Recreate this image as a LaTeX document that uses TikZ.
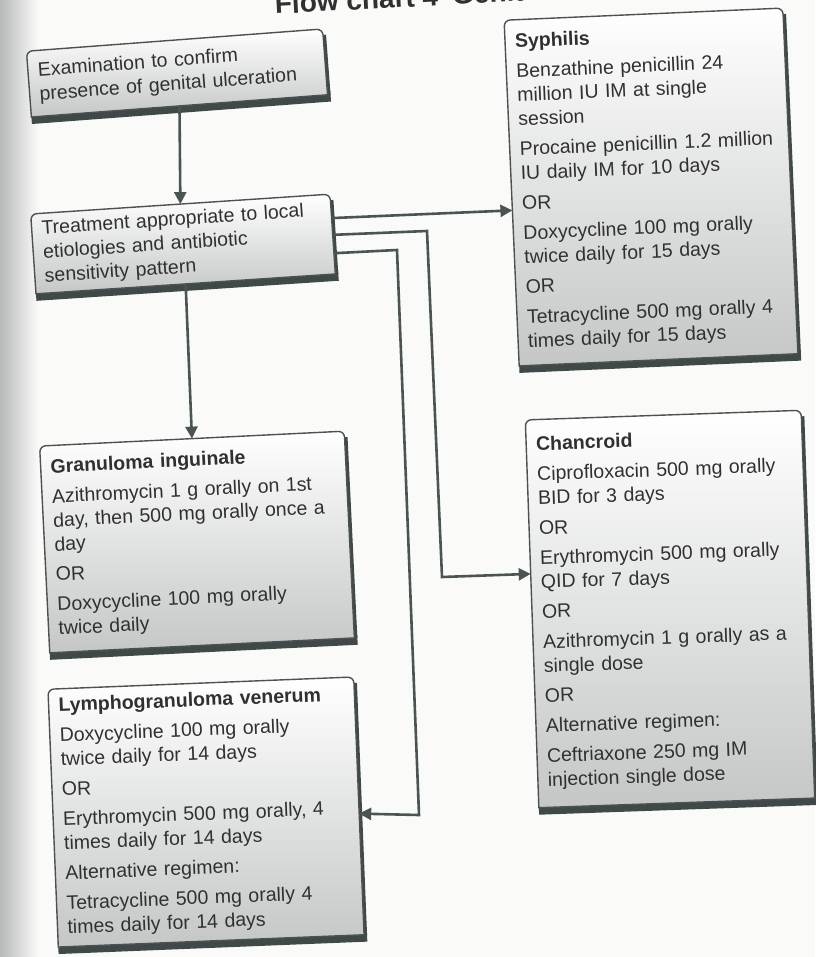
\documentclass[tikz,border=0pt]{standalone}
\usepackage{fontspec}
\setmainfont{Liberation Sans}
\usetikzlibrary{arrows.meta,calc}
\definecolor{linec}{HTML}{4A5553}
\definecolor{shadowc}{HTML}{3F4947}
\definecolor{borderc}{HTML}{4D5250}
\definecolor{boxbot}{HTML}{C4C7C6}
\definecolor{txtc}{HTML}{303030}
\definecolor{pagec}{HTML}{FAFAF9}
\definecolor{gutterc}{HTML}{B5B9B8}
\tikzset{
  boxtext/.style={inner xsep=5pt, inner ysep=2pt, outer sep=0pt, align=left,
    font=\fontsize{9.75}{12}\selectfont, text=txtc, anchor=center},
  link/.style={draw=linec, line width=1.3pt},
  arr/.style={link, -{Triangle[length=6pt,width=6pt]}}
}
\newcommand\flowbox[7]{%
  \pgfmathsetmacro\fbtw{#5*0.5-10}%
  \pgfmathsetmacro\fbw{#5*0.5}%
  \pgfmathsetmacro\fbh{#6*0.5}%
  \begin{scope}[shift={(#2,#3)}, rotate=#4, transform shape]
    \fill[shadowc] (-#5/2, #6/2-4) rectangle (#5/2+3, #6/2+7);
    \fill[shadowc] (#5/2-3, -#6/2+6) rectangle (#5/2+3, #6/2);
    \shade[top color=white, bottom color=boxbot, draw=borderc, line width=0.7pt]
      (-#5/2,#6/2) [rounded corners=3pt]-- (-#5/2,-#6/2) -- (#5/2,-#6/2) [sharp corners]-- (#5/2,#6/2) -- cycle;
    \node[boxtext, text width=\fbtw pt, minimum width=\fbw pt, minimum height=\fbh pt] (#1) at (0,0) {#7};
  \end{scope}}
\begin{document}
\begin{tikzpicture}[x=0.5pt,y=-0.5pt]
\useasboundingbox (0,0) rectangle (815,957);
\fill[pagec] (0,0) rectangle (815,957);
\shade[left color=gutterc, right color=pagec] (0,0) rectangle (38,957);

\node[font=\fontsize{14}{16}\selectfont\bfseries, text=txtc, anchor=base west, rotate=3, inner sep=0pt] (title) at (275,14) {Flow chart 4\enspace Genital ulcer};

\flowbox{exam}{177}{73}{4.3}{297}{66}{Examination to confirm\\presence of genital ulceration}
\flowbox{treat}{183}{244}{3.8}{300}{80}{Treatment appropriate to local\\etiologies and antibiotic\\sensitivity pattern}
\flowbox{gran}{197}{542}{2.8}{305}{207}{\textbf{Granuloma inguinale}\\[3pt]
Azithromycin 1 g orally on 1st\\day, then 500 mg orally once a\\day\\[3pt]
OR\\[3pt]
Doxycycline 100 mg orally\\twice daily}
\flowbox{lymph}{206}{812}{2.3}{306}{258}{\textbf{Lymphogranuloma venerum}\\[3pt]
Doxycycline 100 mg orally\\twice daily for 14 days\\[3pt]
OR\\[3pt]
Erythromycin 500 mg orally, 4\\times daily for 14 days\\[3pt]
Alternative regimen:\\[3pt]
Tetracycline 500 mg orally 4\\times daily for 14 days}
\flowbox{syph}{651}{187}{2.5}{279}{346}{\textbf{Syphilis}\\[3pt]
Benzathine penicillin 24\\million IU IM at single\\session\\[3pt]
Procaine penicillin 1.2 million\\IU daily IM for 10 days\\[3pt]
OR\\[3pt]
Doxycycline 100 mg orally\\twice daily for 15 days\\[3pt]
OR\\[3pt]
Tetracycline 500 mg orally 4\\times daily for 15 days}
\flowbox{chanc}{670}{609}{2.0}{276}{388}{\textbf{Chancroid}\\[3pt]
Ciprofloxacin 500 mg orally\\BID for 3 days\\[3pt]
OR\\[3pt]
Erythromycin 500 mg orally\\QID for 7 days\\[3pt]
OR\\[3pt]
Azithromycin 1 g orally as a\\single dose\\[3pt]
OR\\[3pt]
Alternative regimen:\\[3pt]
Ceftriaxone 250 mg IM\\injection single dose}

\coordinate (d1) at (427,231);
\coordinate (d2) at (442,577);
\coordinate (e1) at (397,250);
\coordinate (e2) at (419,815);

\draw[arr] (exam.south) -- (treat.north);
\draw[arr] (treat.south) -- (gran.north);
\draw[arr] ($(treat.north east)!0.3!(treat.south east)$) -- ($(syph.north west)!0.55!(syph.south west)$);
\draw[arr] ($(treat.north east)!0.51!(treat.south east)$) -- (d1) -- (d2) -- ($(chanc.north west)!0.397!(chanc.south west)$);
\draw[arr] ($(treat.north east)!0.74!(treat.south east)$) -- (e1) -- (e2) -- ($(lymph.north east)!0.53!(lymph.south east)$);
\end{tikzpicture}
\end{document}
